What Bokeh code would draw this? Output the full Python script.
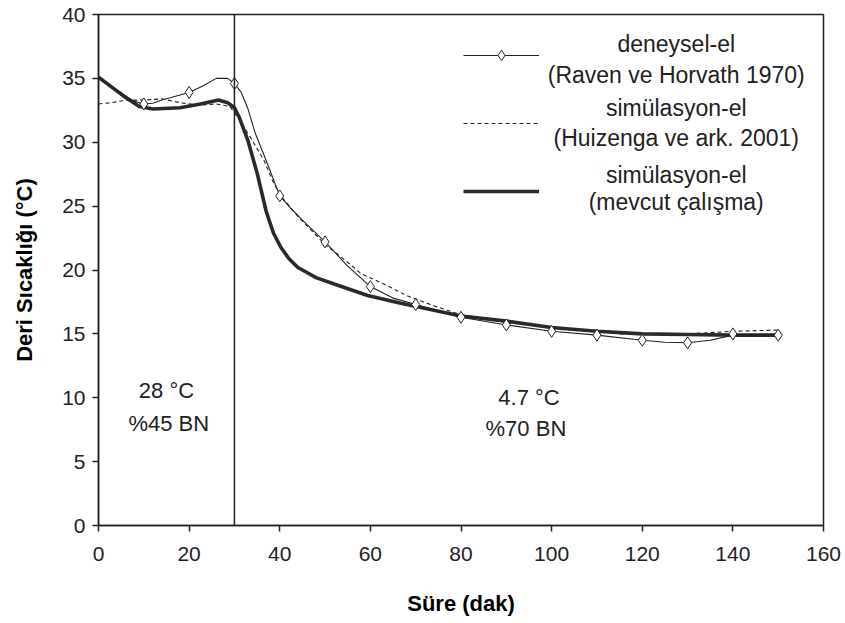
from bokeh.plotting import figure
from bokeh.models import Range1d, FixedTicker, Span, Label, Legend, LegendItem
from bokeh.embed import file_html
from bokeh.resources import INLINE

# ---- data ----
# experimental points (Raven ve Horvath 1970)
exp_t = [10, 20, 30, 40, 50, 60, 70, 80, 90, 100, 110, 120, 130, 140, 150]
exp_v = [33.0, 33.9, 34.6, 25.8, 22.2, 18.7, 17.3, 16.3, 15.7, 15.2, 14.9, 14.5, 14.3, 15.0, 14.9]
# smoothed experimental trace as drawn
exp_curve_t = [0, 3, 6, 8, 10, 12, 14, 17, 20, 23, 26, 28.5, 30, 31.5, 33, 34.6, 37.3, 40, 42.5, 45,
               50, 55, 60, 65, 70, 75, 80, 90, 100, 110, 120, 125, 130, 135, 140, 145, 150]
exp_curve_v = [35.1, 34.3, 33.6, 33.2, 33.0, 33.05, 33.3, 33.6, 33.9, 34.4, 35.0, 35.0, 34.6, 33.9,
               32.6, 30.7, 28.3, 25.8, 24.8, 23.9, 22.2, 20.3, 18.7, 17.8, 17.3, 16.8, 16.3, 15.7,
               15.2, 14.9, 14.5, 14.35, 14.3, 14.5, 14.9, 14.95, 14.9]
# simulation (Huizenga ve ark. 2001)
huiz_t = [0, 3, 6, 10, 14, 18, 22, 26, 29, 31, 33.5, 36.5, 38.4, 40, 44, 47, 50, 55, 58, 63, 68, 74,
          80, 90, 100, 110, 115, 120, 130, 140, 150]
huiz_v = [33.0, 33.1, 33.3, 33.3, 33.4, 33.1, 32.9, 33.0, 32.8, 31.8, 30.4, 28.6, 27.0, 25.9, 24.2,
          23.1, 22.0, 20.6, 19.7, 18.9, 18.0, 17.2, 16.5, 15.9, 15.5, 15.2, 15.0, 15.0, 15.0, 15.2, 15.3]
# simulation (mevcut çalışma)
mev_t = [0, 3, 6, 9, 12, 18, 22.5, 26.5, 28.5, 30, 31, 33, 35, 37, 38.6, 40.2, 42, 44, 46, 48, 52,
         59.4, 66.7, 80, 90, 100, 110, 120, 130, 140, 150]
mev_v = [35.1, 34.3, 33.5, 32.8, 32.6, 32.7, 33.0, 33.3, 33.1, 32.7, 32.0, 30.1, 27.6, 24.6, 22.9,
         21.8, 20.9, 20.2, 19.8, 19.4, 18.9, 18.0, 17.4, 16.4, 16.0, 15.5, 15.2, 15.0, 14.95, 14.9, 14.9]

x_ticks = [0, 20, 40, 60, 80, 100, 120, 140, 160]
y_ticks = [0, 5, 10, 15, 20, 25, 30, 35, 40]
switch_time = 30

legend_lines = [("deneysel-el", "(Raven ve Horvath 1970)"),
                ("simülasyon-el", "(Huizenga ve ark. 2001)"),
                ("simülasyon-el", "(mevcut çalışma)")]

FONT = "Liberation Sans"
INK = "#222222"

p = figure(width=845, height=623, x_range=Range1d(0, 160), y_range=Range1d(0, 40),
           output_backend="svg", toolbar_location=None,
           min_border_left=98, min_border_right=22, min_border_top=14, min_border_bottom=98)
p.background_fill_color = "white"
p.border_fill_color = "white"
p.outline_line_color = INK
p.outline_line_width = 1.5
p.xgrid.grid_line_color = None
p.ygrid.grid_line_color = None

p.xaxis.ticker = FixedTicker(ticks=x_ticks)
p.yaxis.ticker = FixedTicker(ticks=y_ticks)
for ax in (p.xaxis[0], p.yaxis[0]):
    ax.axis_line_color = INK
    ax.axis_line_width = 1.5
    ax.major_tick_line_color = INK
    ax.major_tick_line_width = 1.5
    ax.major_tick_out = 6
    ax.major_tick_in = 0
    ax.minor_tick_line_color = None
    ax.major_label_text_font = FONT
    ax.major_label_text_font_size = "21px"
    ax.major_label_text_color = INK
    ax.axis_label_text_font = FONT
    ax.axis_label_text_font_size = "22px"
    ax.axis_label_text_font_style = "bold"
    ax.axis_label_text_color = "black"

p.xaxis.axis_label = "Süre (dak)"
p.yaxis.axis_label = "Deri Sıcaklığı (°C)"
p.xaxis.major_label_standoff = 15
p.xaxis.axis_label_standoff = 27
p.yaxis.major_label_standoff = 7
p.yaxis.axis_label_standoff = 22

# curves
r_huiz = p.line(huiz_t, huiz_v, line_color=INK, line_width=1.1, line_dash="4 3")
r_mev = p.line(mev_t, mev_v, line_color="#2a2a2a", line_width=3.6)
r_exp_line = p.line(exp_curve_t, exp_curve_v, line_color=INK, line_width=1.1)
r_exp_pts = p.scatter(exp_t, exp_v, marker="diamond", size=12, fill_color="white",
                      line_color=INK, line_width=1)

# regime change line
p.add_layout(Span(location=switch_time, dimension="height", line_color=INK, line_width=1.5))

# condition annotations
for txt, x, y in [("28 °C", 15.0, 10.6), ("%45 BN", 15.5, 8.0),
                  ("4.7 °C", 95.0, 10.0), ("%70  BN", 95.0, 7.6)]:
    p.add_layout(Label(x=x, y=y, text=txt, text_align="center", text_baseline="middle",
                       text_font=FONT, text_font_size="22px", text_color=INK))

# legend keys
legend = Legend(items=[LegendItem(label=" ", renderers=[r_exp_line, r_exp_pts]),
                       LegendItem(label=" ", renderers=[r_huiz]),
                       LegendItem(label=" ", renderers=[r_mev])],
                location=(365, 321), glyph_width=76, glyph_height=26, label_height=26,
                label_width=0, label_standoff=0, spacing=42, padding=0, margin=0,
                border_line_color=None, background_fill_alpha=0,
                label_text_font_size="1px")
p.add_layout(legend)

# legend texts
legend_y = [(37.7, 35.3), (32.7, 30.3), (27.4, 25.3)]
for (l1, l2), (y1, y2) in zip(legend_lines, legend_y):
    for t, yy in ((l1, y1), (l2, y2)):
        p.add_layout(Label(x=127.5, y=yy, text=t, text_align="center", text_baseline="middle",
                           text_font=FONT, text_font_size="23px", text_color=INK))

open("out.html", "w").write(file_html(p, INLINE))
